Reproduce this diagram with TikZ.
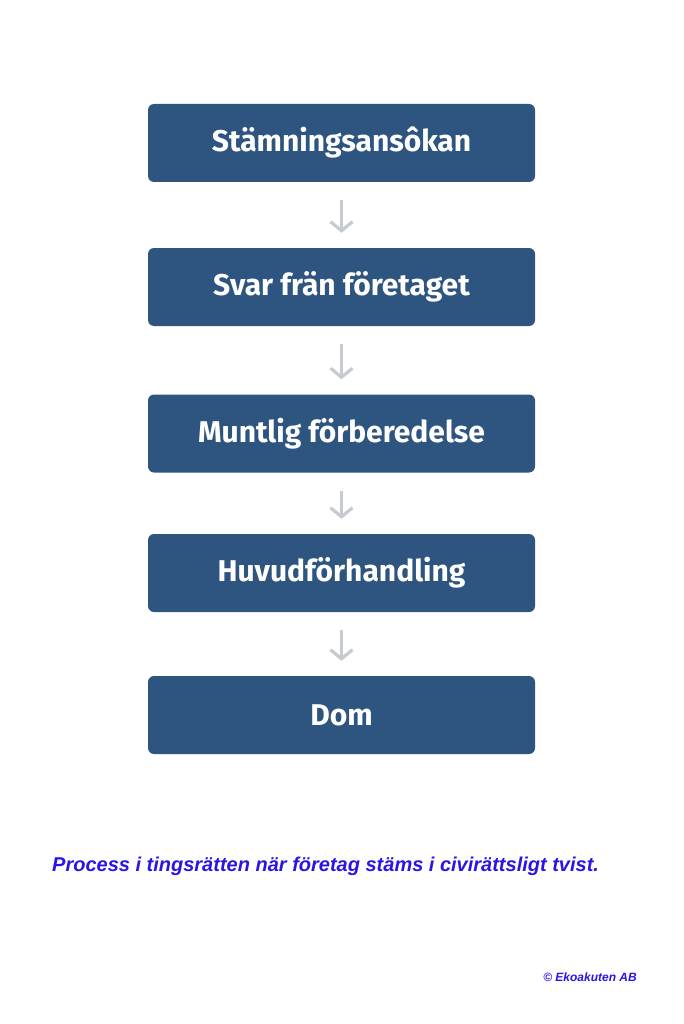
\documentclass[tikz,border=0pt]{standalone}
\usepackage{fontspec}
\setmainfont{Liberation Sans}
\newfontfamily\boxfont{Fira Sans}
\usetikzlibrary{arrows.meta}
\definecolor{boxblue}{HTML}{2E5580}
\definecolor{arrgray}{HTML}{C5CBD1}
\definecolor{capblue}{HTML}{2B14E6}
\tikzset{
  stepbox/.style={fill=boxblue, rounded corners=6pt, minimum width=387pt, minimum height=78pt, inner sep=0pt, text=white, font=\boxfont\bfseries\fontsize{30}{34}\selectfont},
  flowarrow/.style={draw=arrgray, line width=3.2pt, -{Straight Barb[length=9pt,width=22pt,line width=3.2pt]}, shorten <=18pt, shorten >=15pt}
}
\begin{document}
\begin{tikzpicture}[x=1pt,y=-1pt]
\useasboundingbox (0,0) rectangle (683,1024);
\node[stepbox] (s1) at (341.5,143) {Stämningsansôkan};
\node[stepbox] (s2) at (341.5,287) {Svar frän företaget};
\node[stepbox] (s3) at (341.5,433.5) {Muntlig förberedelse};
\node[stepbox] (s4) at (341.5,573) {Huvudförhandling};
\node[stepbox] (s5) at (341.5,715) {Dom};
\draw[flowarrow] (s1) -- (s2);
\draw[flowarrow] (s2) -- (s3);
\draw[flowarrow] (s3) -- (s4);
\draw[flowarrow] (s4) -- (s5);
\node[anchor=base west, inner sep=0pt, text=capblue, font=\bfseries\itshape\fontsize{20}{24}\selectfont] (cap) at (52,871) {Process i tingsrätten när företag stäms i civirättsligt tvist.};
\node[anchor=base east, inner sep=0pt, text=capblue, font=\bfseries\itshape\fontsize{12}{14}\selectfont] (copy) at (637,981) {© Ekoakuten AB};
\end{tikzpicture}
\end{document}
